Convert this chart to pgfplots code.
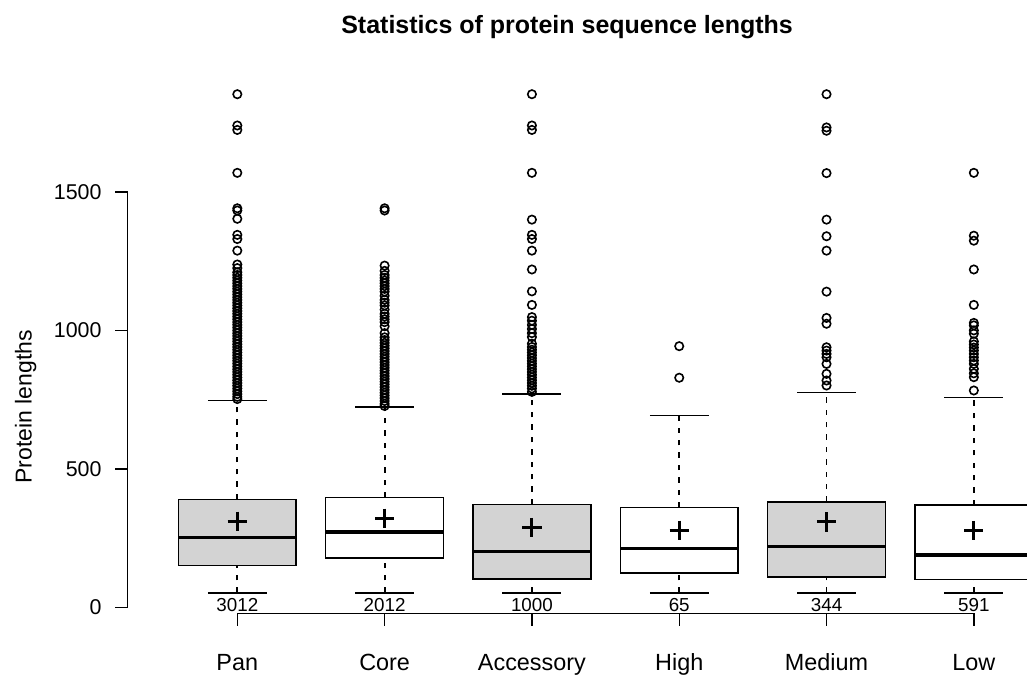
\documentclass[border=0pt]{standalone}
\usepackage{fontspec}
\setmainfont{Liberation Sans}
\usepackage{pgfplots}
\pgfplotsset{compat=1.18}
\definecolor{boxgray}{HTML}{D3D3D3}

\pgfplotsset{
  whisk/.style={black, line width=0.9pt, dash pattern=on 2.7pt off 3.5pt},
  cap/.style={black, line width=0.8pt},
  boxg/.style={draw=black, fill=boxgray, line width=0.75pt},
  boxw/.style={draw=black, fill=white, line width=0.75pt},
  med/.style={black, line width=1.6pt},
  outl/.style={only marks, mark=o, mark size=2.1pt, mark options={black, line width=0.8pt, fill=none}},
}

\begin{document}
\begin{tikzpicture}
\useasboundingbox (-63.85pt,-31.35pt) rectangle (449.6pt,306.65pt);
\begin{axis}[
  at={(0pt,0pt)}, anchor=south west,
  scale only axis, width=449.6pt, height=306.2pt,
  xmin=0.256, xmax=6.361, ymin=-22, ymax=2190,
  clip=false,
  axis lines*=left, axis line style={draw=none},
  tick align=outside, major tick length=6.2pt,
  tick style={black, line width=0.7pt},
  xtick={1,2,3,4,5,6}, xticklabels={Pan,Core,Accessory,High,Medium,Low},
  ytick={0,500,1000,1500},
  /pgf/number format/assume math mode=true,
  /pgf/number format/1000 sep={},
  xticklabel style={anchor=base, yshift=-22.4pt, font=\fontsize{11.7}{14}\selectfont},
  yticklabel style={anchor=east, inner sep=0pt, xshift=-6.7pt, font=\fontsize{10.7}{13}\selectfont},
]
% axis lines in R style
\draw[line width=0.7pt] (axis cs:0.256,0) -- (axis cs:0.256,1500);
\draw[line width=0.7pt] (axis cs:1,-22) -- (axis cs:6,-22);

% whiskers (dashed) and caps
\addplot[whisk] coordinates {(1,52) (1,150)};
\addplot[whisk] coordinates {(1,390) (1,747)};
\addplot[whisk] coordinates {(2,52) (2,178)};
\addplot[whisk] coordinates {(2,396) (2,723)};
\addplot[whisk] coordinates {(3,52) (3,102)};
\addplot[whisk] coordinates {(3,372) (3,770)};
\addplot[whisk] coordinates {(4,52) (4,124)};
\addplot[whisk] coordinates {(4,361) (4,693)};
\addplot[whisk] coordinates {(5,52) (5,109)};
\addplot[whisk] coordinates {(5,381) (5,776)};
\addplot[whisk] coordinates {(6,52) (6,101)};
\addplot[whisk] coordinates {(6,369) (6,757)};

\addplot[cap] coordinates {(0.8,52) (1.2,52)};
\addplot[cap] coordinates {(0.8,747) (1.2,747)};
\addplot[cap] coordinates {(1.8,52) (2.2,52)};
\addplot[cap] coordinates {(1.8,723) (2.2,723)};
\addplot[cap] coordinates {(2.8,52) (3.2,52)};
\addplot[cap] coordinates {(2.8,770) (3.2,770)};
\addplot[cap] coordinates {(3.8,52) (4.2,52)};
\addplot[cap] coordinates {(3.8,693) (4.2,693)};
\addplot[cap] coordinates {(4.8,52) (5.2,52)};
\addplot[cap] coordinates {(4.8,776) (5.2,776)};
\addplot[cap] coordinates {(5.8,52) (6.2,52)};
\addplot[cap] coordinates {(5.8,757) (6.2,757)};

% boxes (lower quartile to upper quartile)
\addplot[boxg] coordinates {(0.6,150) (1.4,150) (1.4,390) (0.6,390) (0.6,150) (1.4,150)};
\addplot[boxw] coordinates {(1.6,178) (2.4,178) (2.4,396) (1.6,396) (1.6,178) (2.4,178)};
\addplot[boxg] coordinates {(2.6,102) (3.4,102) (3.4,372) (2.6,372) (2.6,102) (3.4,102)};
\addplot[boxw] coordinates {(3.6,124) (4.4,124) (4.4,361) (3.6,361) (3.6,124) (4.4,124)};
\addplot[boxg] coordinates {(4.6,109) (5.4,109) (5.4,381) (4.6,381) (4.6,109) (5.4,109)};
\addplot[boxw] coordinates {(5.6,101) (6.4,101) (6.4,369) (5.6,369) (5.6,101) (6.4,101)};

% medians
\addplot[med] coordinates {(0.6,253) (1.4,253)};
\addplot[med] coordinates {(1.6,272) (2.4,272)};
\addplot[med] coordinates {(2.6,202) (3.4,202)};
\addplot[med] coordinates {(3.6,212) (4.4,212)};
\addplot[med] coordinates {(4.6,220) (5.4,220)};
\addplot[med] coordinates {(5.6,189) (6.4,189)};

% means
\addplot[only marks, mark=+, mark size=4.8pt, mark options={black, line width=1.5pt}]
  coordinates {(1,311) (2,322) (3,288) (4,278) (5,308) (6,277)};

% outliers
\addplot[outl] coordinates {
  (1,1853) (1,1740) (1,1724) (1,1569) (1,1441) (1,1433) (1,1403) (1,1345) (1,1330)
  (1,1288) (1,1238) (1,1225) (1,1210) (1,1200) (1,1190) (1,1180) (1,1170) (1,1160)
  (1,1150) (1,1140) (1,1130) (1,1120) (1,1110) (1,1100) (1,1090) (1,1080) (1,1070)
  (1,1060) (1,1050) (1,1040) (1,1030) (1,1020) (1,1010) (1,1000) (1,990) (1,980)
  (1,970) (1,960) (1,950) (1,940) (1,930) (1,920) (1,910) (1,900) (1,890) (1,880)
  (1,870) (1,860) (1,850) (1,840) (1,830) (1,820) (1,810) (1,800) (1,790) (1,780)
  (1,770) (1,760) (1,752)
};
\addplot[outl] coordinates {
  (2,1441) (2,1433) (2,1234) (2,1215) (2,1200) (2,1190) (2,1180) (2,1170) (2,1160)
  (2,1150) (2,1140) (2,1125) (2,1110) (2,1100) (2,1090) (2,1075) (2,1060) (2,1050)
  (2,1040) (2,1030) (2,1015) (2,990) (2,975) (2,965) (2,955) (2,945) (2,935)
  (2,925) (2,915) (2,905) (2,895) (2,885) (2,875) (2,865) (2,855) (2,845) (2,835)
  (2,825) (2,815) (2,805) (2,795) (2,785) (2,775) (2,765) (2,755) (2,745) (2,735)
  (2,727)
};
\addplot[outl] coordinates {
  (3,1853) (3,1740) (3,1724) (3,1569) (3,1400) (3,1345) (3,1330) (3,1288) (3,1220)
  (3,1141) (3,1092) (3,1048) (3,1035) (3,1020) (3,1005) (3,990) (3,976) (3,952)
  (3,940) (3,930) (3,920) (3,910) (3,900) (3,890) (3,880) (3,870) (3,860) (3,850)
  (3,840) (3,830) (3,820) (3,810) (3,800) (3,790) (3,778)
};
\addplot[outl] coordinates {(4,943) (4,829)};
\addplot[outl] coordinates {
  (5,1853) (5,1733) (5,1721) (5,1568) (5,1400) (5,1340) (5,1288) (5,1140) (5,1045)
  (5,1024) (5,939) (5,927) (5,915) (5,903) (5,879) (5,843) (5,819) (5,801)
};
\addplot[outl] coordinates {
  (6,1569) (6,1342) (6,1324) (6,1220) (6,1092) (6,1027) (6,1018) (6,1000) (6,988)
  (6,960) (6,949) (6,938) (6,927) (6,915) (6,903) (6,891) (6,879) (6,861) (6,845)
  (6,831) (6,783)
};

% group sizes
\node[anchor=base, inner sep=0pt, font=\fontsize{9.4}{11}\selectfont] at (axis cs:1,-17) {3012};
\node[anchor=base, inner sep=0pt, font=\fontsize{9.4}{11}\selectfont] at (axis cs:2,-17) {2012};
\node[anchor=base, inner sep=0pt, font=\fontsize{9.4}{11}\selectfont] at (axis cs:3,-17) {1000};
\node[anchor=base, inner sep=0pt, font=\fontsize{9.4}{11}\selectfont] at (axis cs:4,-17) {65};
\node[anchor=base, inner sep=0pt, font=\fontsize{9.4}{11}\selectfont] at (axis cs:5,-17) {344};
\node[anchor=base, inner sep=0pt, font=\fontsize{9.4}{11}\selectfont] at (axis cs:6,-17) {591};
\end{axis}
\node[anchor=base, font=\bfseries\fontsize{12.5}{15}\selectfont] at (219.65pt,290pt)
  {Statistics of protein sequence lengths};
\node[anchor=base, rotate=90, font=\fontsize{11.5}{14}\selectfont] at (-48pt,103.3pt)
  {Protein lengths};
\end{tikzpicture}
\end{document}
